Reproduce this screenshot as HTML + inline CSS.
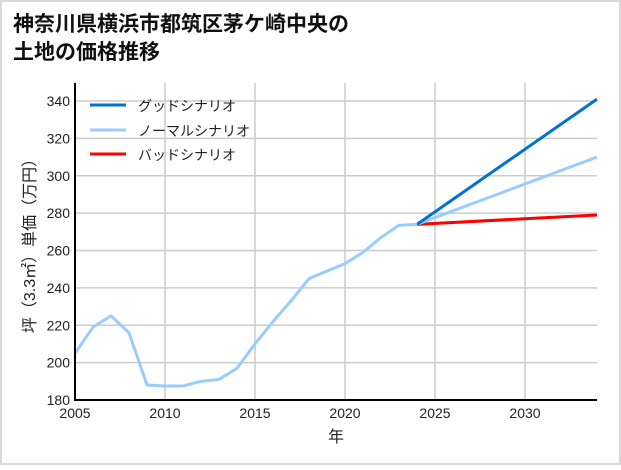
<!DOCTYPE html>
<html><head><meta charset="utf-8"><style>
html,body{margin:0;padding:0;background:#fff;}
svg text{font-family:"Liberation Sans","Noto Sans CJK JP",sans-serif;}
</style></head><body>
<svg width="621" height="465" xmlns="http://www.w3.org/2000/svg">
<rect x="1" y="1" width="619" height="463" fill="#fff" stroke="#d9d9d9" stroke-width="2"/>
<text x="13" y="31" font-size="21" font-weight="bold" fill="#111">神奈川県横浜市都筑区茅ケ崎中央の</text>
<text x="13" y="59" font-size="21" font-weight="bold" fill="#111">土地の価格推移</text>
<g id="grid"></g>
<g id="marks"></g>
<line x1="75" y1="83" x2="75" y2="400" stroke="#000" stroke-width="2"/>
<line x1="74" y1="400" x2="597" y2="400" stroke="#000" stroke-width="2"/>
<g id="ticks"></g>
<text x="336" y="442" font-size="16" text-anchor="middle" fill="#222">年</text>
<text transform="translate(35,242) rotate(-90)" font-size="16" text-anchor="middle" fill="#222">坪（3.3㎡）単価（万円）</text>
<g>
<line x1="90" y1="105" x2="126" y2="105" stroke="#0072cf" stroke-width="3"/>
<text x="138" y="111" font-size="14" fill="#222">グッドシナリオ</text>
<line x1="90" y1="130" x2="126" y2="130" stroke="#99ccff" stroke-width="3"/>
<text x="138" y="136" font-size="14" fill="#222">ノーマルシナリオ</text>
<line x1="90" y1="154" x2="126" y2="154" stroke="#ff0000" stroke-width="3"/>
<text x="138" y="160" font-size="14" fill="#222">バッドシナリオ</text>
</g>
</svg>
<script>
const years=[2005,2006,2007,2008,2009,2010,2011,2012,2013,2014,2015,2016,2017,2018,2019,2020,2021,2022,2023,2024];
const history=[205,219,225,216,188,187.5,187.5,190,191,197,210,222,233,245,249,253,259,267,273.5,274];
const scenarioYears=[2024,2034];
const goodValues=[274,341];
const normalValues=[274,310];
const badValues=[274,279];
const xTicks=[2005,2010,2015,2020,2025,2030];
const yTicks=[180,200,220,240,260,280,300,320,340];
const NS="http://www.w3.org/2000/svg";
const X=v=>75+(v-2005)*18;
const Y=v=>400-(v-180)*(299/160);
const grid=document.getElementById('grid'),marks=document.getElementById('marks'),ticks=document.getElementById('ticks');
function mk(tag,attrs,parent){const e=document.createElementNS(NS,tag);for(const k in attrs)e.setAttribute(k,attrs[k]);parent.appendChild(e);return e;}
xTicks.forEach(t=>{
 const l=mk('line',{x1:X(t),x2:X(t),y1:83,y2:400,stroke:'#cccccc','stroke-width':1.5},grid);
 
 
 const tx=mk('text',{x:X(t),y:418,'font-size':14,'text-anchor':'middle',fill:'#222'},ticks);
 tx.textContent=t;
 
 
});
yTicks.forEach(t=>{
 const l=mk('line',{x1:75,x2:597,y1:Y(t),y2:Y(t),stroke:'#cccccc','stroke-width':1.5},grid);
 
 
 const tx=mk('text',{x:70,y:Y(t)+5,'font-size':14,'text-anchor':'end',fill:'#222'},ticks);
 tx.textContent=t;
 
 
});
function line(xs,vs,color,name){
 const p=mk('polyline',{points:xs.map((x,i)=>X(x)+','+Y(vs[i])).join(' '),fill:'none',stroke:color,'stroke-width':3,'stroke-linejoin':'round'},marks);
 
 
}
line(scenarioYears,badValues,'#ff0000','bad-scenario-line');
line(scenarioYears,normalValues,'#99ccff','normal-scenario-line');
line(scenarioYears,goodValues,'#0072cf','good-scenario-line');
line(years,history,'#99ccff','history-line');
</script>
</body></html>
